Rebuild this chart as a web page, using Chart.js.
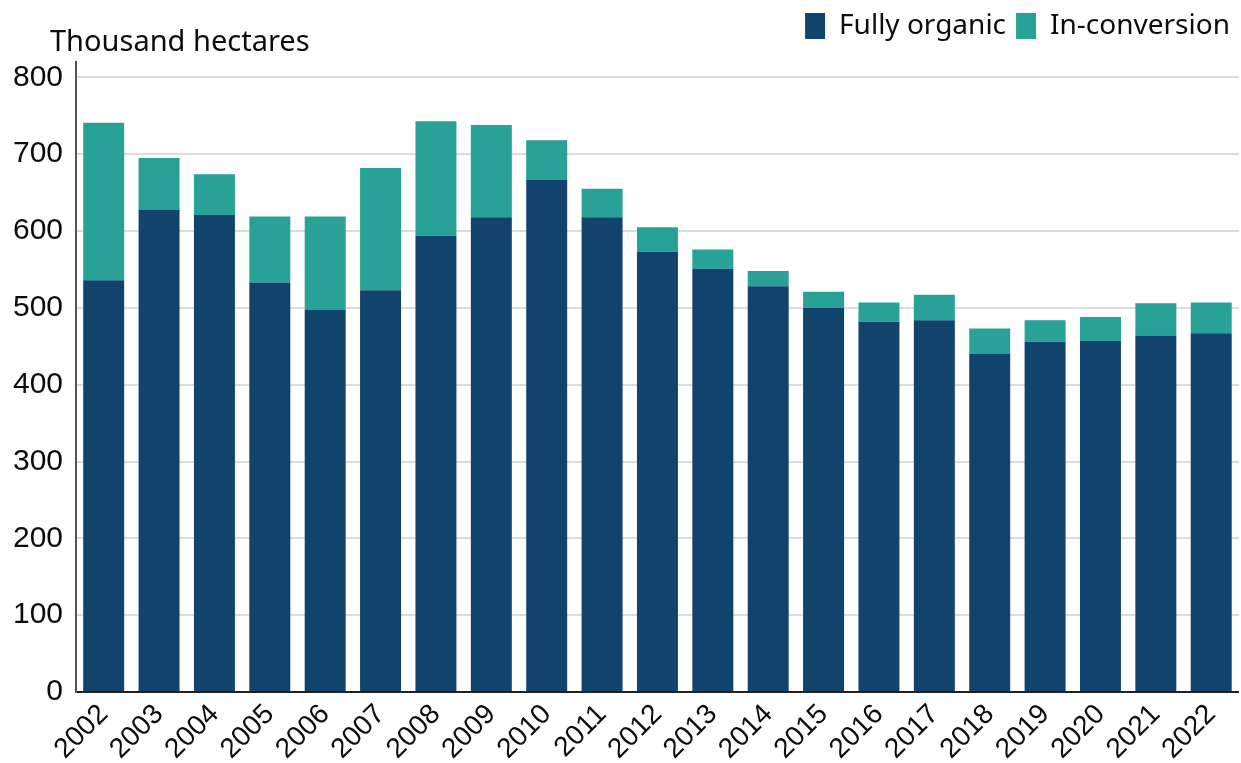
<!DOCTYPE html>
<html lang="en">
<head>
    <meta charset="UTF-8">
    <script src="https://cdn.jsdelivr.net/npm/chart.js@4.4.1/dist/chart.umd.min.js"></script>
    <title>Organic land</title>
    <style>
        html, body { margin: 0; padding: 0; background: #fff; }
        #wrap { width: 1241px; height: 763px; }
    </style>
</head>
<body>
    <div id="wrap"><canvas id="myChart"></canvas></div>
    <script>
const years = ['2002', '2003', '2004', '2005', '2006', '2007', '2008', '2009', '2010', '2011', '2012',
    '2013', '2014', '2015', '2016', '2017', '2018', '2019', '2020', '2021', '2022']
// thousand hectares
const fullyOrganic = [536, 628, 621, 533, 498, 523, 594, 618, 667, 618, 573, 551, 528, 500, 482, 484, 440, 456, 457, 464, 467]
const inConversion = [205, 67, 53, 86, 121, 159, 149, 120, 51, 37, 32, 25, 20, 21, 25, 33, 33, 28, 31, 42, 40]
const yTicks = [0, 100, 200, 300, 400, 500, 600, 700, 800]

const darkBlue = '#12436D'
const turquoise = '#28A197'

// axis unit text sits above the y axis
const unitLabel = {
    id: 'unitLabel',
    afterDraw(chart) {
        const c = chart.ctx
        c.save()
        c.font = '29px "Noto Sans"'
        c.fillStyle = '#0b0c0c'
        c.textAlign = 'left'
        c.textBaseline = 'alphabetic'
        c.fillText('Thousand hectares', 50, 51)
        c.restore()
    }
}

// extra space between legend and plot
const legendGap = {
    id: 'legendGap',
    beforeInit(chart) {
        const fit = chart.legend.fit
        chart.legend.fit = function () {
            fit.bind(chart.legend)()
            this.height += 12
        }
    }
}

const ctx = document.getElementById('myChart').getContext('2d')
new Chart(ctx, {
    type: 'bar',
    data: {
        labels: years,
        datasets: [{
            label: 'Fully organic',
            data: fullyOrganic,
            backgroundColor: darkBlue,
            barPercentage: 0.74,
            categoryPercentage: 1
        }, {
            label: 'In-conversion',
            data: inConversion,
            backgroundColor: turquoise,
            barPercentage: 0.74,
            categoryPercentage: 1
        }]
    },
    options: {
        responsive: true,
        maintainAspectRatio: false,
        animation: false,
        layout: { padding: { top: 2, right: 1, left: 0, bottom: 0 } },
        plugins: {
            tooltip: { enabled: false },
            legend: {
                position: 'top',
                align: 'end',
                labels: {
                    boxWidth: 20,
                    boxHeight: 26,
                    padding: 10,
                    color: '#0b0c0c',
                    font: { family: '"Noto Sans"', size: 28 }
                }
            }
        },
        scales: {
            x: {
                stacked: true,
                grid: { display: false, drawTicks: false },
                border: { display: true, color: '#222', width: 2 },
                ticks: {
                    color: '#0b0c0c',
                    font: { family: '"Liberation Sans"', size: 28 },
                    minRotation: 45,
                    maxRotation: 45,
                    padding: 6
                },
                afterFit(s) { s.height = 71 }
            },
            y: {
                stacked: true,
                min: 0,
                max: 820,
                grid: { color: '#dcdcdc', lineWidth: 2, drawTicks: false },
                border: { display: true, color: '#555', width: 2 },
                ticks: {
                    stepSize: 100,
                    color: '#0b0c0c',
                    font: { family: '"Liberation Sans"', size: 30 },
                    padding: 13
                },
                afterBuildTicks(s) { s.ticks = yTicks.map(v => ({ value: v })) },
                afterFit(s) { s.width = 76 }
            }
        }
    },
    plugins: [unitLabel, legendGap]
})
    </script>
</body>
</html>
